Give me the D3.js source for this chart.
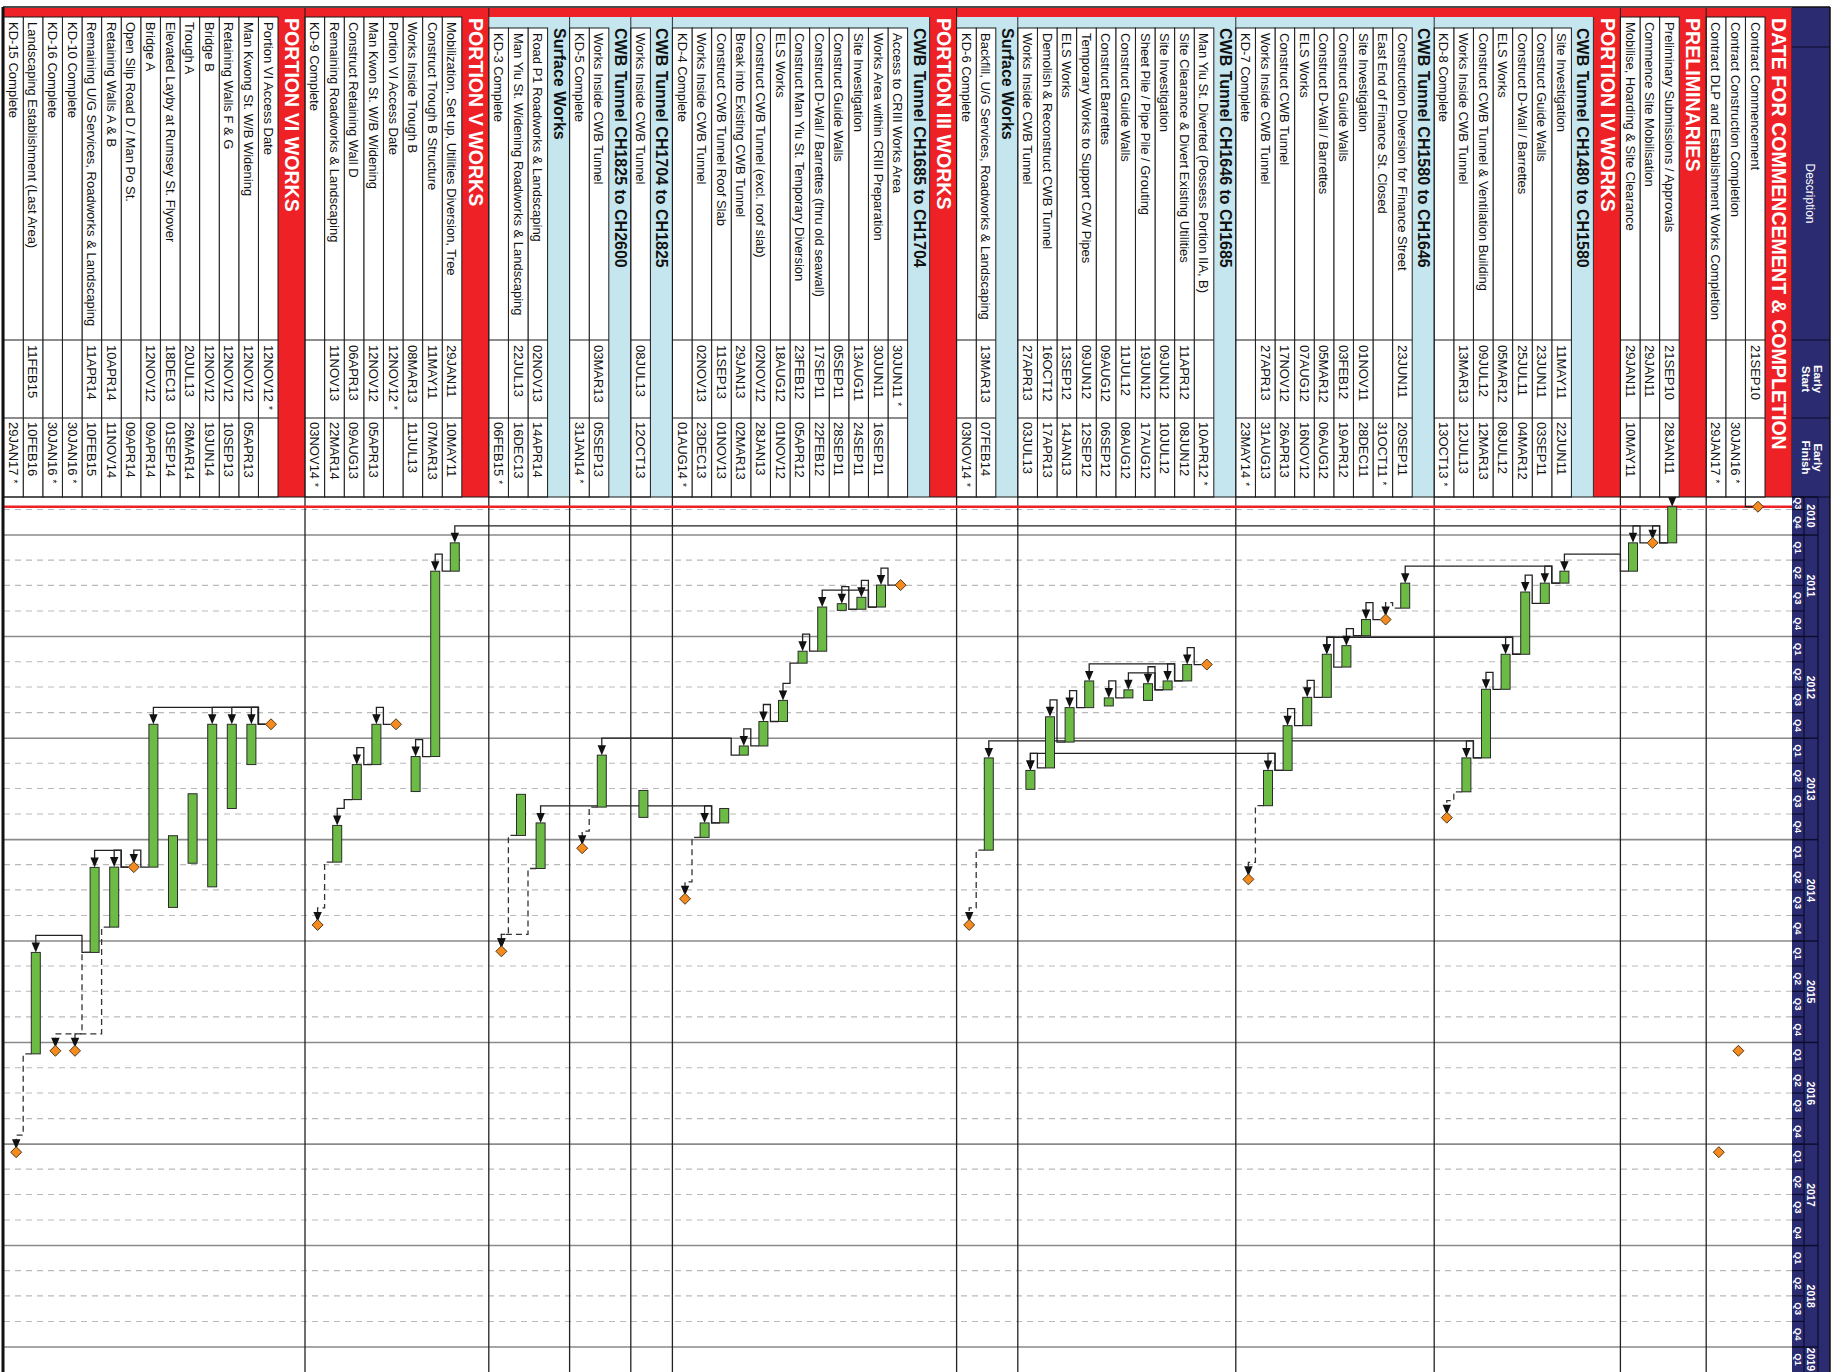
<!DOCTYPE html>
<html>
<head>
<meta charset="utf-8">
<script src="https://cdn.jsdelivr.net/npm/d3@7"></script>
<style>
  html, body { margin: 0; padding: 0; background: #ffffff; }
  svg { display: block; }
  text { font-family: "Liberation Sans", Arial, Helvetica, sans-serif; }
</style>
</head>
<body>
<script>
// ---- Programme rows, top to bottom (G = WBS group, S = sub-group, A = activity / milestone)
const rowKind = [
  "G","A","A","A",
  "G","A","A","A",
  "G","S","A","A","A","A","A","A","A",
  "S","A","A","A","A","A","A","A","A","A",
  "S","A","A","A","A","A","A","A","A","A","A",
  "S","A","A",
  "G","S","A","A","A","A","A","A","A","A","A","A","A","A",
  "S","A",
  "S","A","A",
  "S","A","A","A",
  "G","A","A","A","A","A","A","A","A",
  "G","A","A","A","A","A","A","A","A","A","A","A","A","A","A"
];

const rowLabel = [
  "DATE FOR COMMENCEMENT & COMPLETION",
  "Contract Commencement",
  "Contract Construction Completion",
  "Contract DLP and Establishment Works Completion",
  "PRELIMINARIES",
  "Preliminary Submissions / Approvals",
  "Commence Site Mobilisation",
  "Mobilise, Hoarding & Site Clearance",
  "PORTION IV WORKS",
  "CWB Tunnel CH1480 to CH1580",
  "Site Investigation",
  "Construct Guide Walls",
  "Construct D-Wall / Barrettes",
  "ELS Works",
  "Construct CWB Tunnel & Ventilation Building",
  "Works Inside CWB Tunnel",
  "KD-8 Complete",
  "CWB Tunnel CH1580 to CH1646",
  "Construction Diversion for Finance Street",
  "East End of Finance St. Closed",
  "Site Investigation",
  "Construct Guide Walls",
  "Construct D-Wall / Barrettes",
  "ELS Works",
  "Construct CWB Tunnel",
  "Works Inside CWB Tunnel",
  "KD-7 Complete",
  "CWB Tunnel CH1646 to CH1685",
  "Man Yiu St. Diverted (Possess Portion IIA, B)",
  "Site Clearance & Divert Existing Utilities",
  "Site Investigation",
  "Sheet Pile / Pipe Pile / Grouting",
  "Construct Guide Walls",
  "Construct Barrettes",
  "Temporary Works to Support C/W Pipes",
  "ELS Works",
  "Demolish & Reconstruct CWB Tunnel",
  "Works Inside CWB Tunnel",
  "Surface Works",
  "Backfill, U/G Services, Roadworks & Landscaping",
  "KD-6 Complete",
  "PORTION III WORKS",
  "CWB Tunnel CH1685 to CH1704",
  "Access to CRIII Works Area",
  "Works Area within CRIII Preparation",
  "Site Investigation",
  "Construct Guide Walls",
  "Construct D-Wall / Barrettes (thru old seawall)",
  "Construct Man Yiu St. Temporary Diversion",
  "ELS Works",
  "Construct CWB Tunnel (excl. roof slab)",
  "Break into Existing CWB Tunnel",
  "Construct CWB Tunnel Roof Slab",
  "Works Inside CWB Tunnel",
  "KD-4 Complete",
  "CWB Tunnel CH1704 to CH1825",
  "Works Inside CWB Tunnel",
  "CWB Tunnel CH1825 to CH2600",
  "Works Inside CWB Tunnel",
  "KD-5 Complete",
  "Surface Works",
  "Road P1 Roadworks & Landscaping",
  "Man Yiu St. Widening Roadworks & Landscaping",
  "KD-3 Complete",
  "PORTION V WORKS",
  "Mobilization, Set up, Utilities Diversion, Tree",
  "Construct Trough B Structure",
  "Works Inside Trough B",
  "Portion VI Access Date",
  "Man Kwon St. W/B Widening",
  "Construct Retaining Wall D",
  "Remaining Roadworks & Landscaping",
  "KD-9 Complete",
  "PORTION VI WORKS",
  "Portion VI Access Date",
  "Man Kwong St. W/B Widening",
  "Retaining Walls F & G",
  "Bridge B",
  "Trough A",
  "Elevated Layby at Rumsey St. Flyover",
  "Bridge A",
  "Open Slip Road D / Man Po St.",
  "Retaining Walls A & B",
  "Remaining U/G Services, Roadworks & Landscaping",
  "KD-10 Complete",
  "KD-16 Complete",
  "Landscaping Establishment (Last Area)",
  "KD-15 Complete"
];

const earlyStart = [
  "","21SEP10","","",
  "","21SEP10","29JAN11","29JAN11",
  "","","11MAY11","23JUN11","25JUL11","05MAR12","09JUL12","13MAR13","",
  "","23JUN11","","01NOV11","03FEB12","05MAR12","07AUG12","17NOV12","27APR13","",
  "","","11APR12","09JUN12","19JUN12","11JUL12","09AUG12","09JUN12","13SEP12","16OCT12","27APR13",
  "","13MAR13","",
  "","","30JUN11 *","30JUN11","13AUG11","05SEP11","17SEP11","23FEB12","18AUG12","02NOV12","29JAN13","11SEP13","02NOV13","",
  "","08JUL13",
  "","03MAR13","",
  "","02NOV13","22JUL13","",
  "","29JAN11","11MAY11","08MAR13","12NOV12 *","12NOV12","06APR13","11NOV13","",
  "","12NOV12 *","12NOV12","12NOV12","12NOV12","20JUL13","18DEC13","12NOV12","","10APR14","11APR14","","","11FEB15",""
];

const earlyFinish = [
  "","","30JAN16 *","29JAN17 *",
  "","28JAN11","","10MAY11",
  "","","22JUN11","03SEP11","04MAR12","08JUL12","12MAR13","12JUL13","13OCT13 *",
  "","20SEP11","31OCT11 *","28DEC11","19APR12","06AUG12","16NOV12","26APR13","31AUG13","23MAY14 *",
  "","10APR12 *","08JUN12","10JUL12","17AUG12","08AUG12","06SEP12","12SEP12","14JAN13","17APR13","03JUL13",
  "","07FEB14","03NOV14 *",
  "","","","16SEP11","24SEP11","28SEP11","22FEB12","05APR12","01NOV12","28JAN13","02MAR13","01NOV13","23DEC13","01AUG14 *",
  "","12OCT13",
  "","05SEP13","31JAN14 *",
  "","14APR14","16DEC13","06FEB15 *",
  "","10MAY11","07MAR13","11JUL13","","05APR13","09AUG13","22MAR14","03NOV14 *",
  "","","05APR13","10SEP13","19JUN14","26MAR14","01SEP14","09APR14","09APR14","11NOV14","10FEB15","30JAN16 *","30JAN16 *","10FEB16","29JAN17 *"
];

// ---- Logic ties between rows: [predecessor, successor, dashed (non-driving)]
const links = [
  [1,5,0],[5,6,0],[6,7,0],[5,65,0],[7,10,0],
  [10,11,0],[10,18,0],[11,12,0],[12,13,0],[12,22,0],[13,14,0],[14,15,0],[15,16,1],
  [18,19,1],[19,20,0],[20,21,0],[21,22,0],[22,23,0],[23,24,0],[24,25,0],[24,37,0],[25,26,1],
  [28,29,0],[29,30,0],[29,34,0],[30,31,0],[30,32,0],[32,33,0],[34,35,0],[35,36,0],[36,37,0],[14,39,0],[39,40,1],
  [43,44,0],[44,45,0],[45,46,0],[44,47,0],[47,48,0],[48,49,0],[49,50,0],[50,51,0],[51,58,0],[52,53,0],[52,61,0],[53,54,1],
  [58,59,1],[61,63,1],[62,63,1],
  [65,66,0],[66,67,0],[68,69,0],[69,70,0],[70,71,0],[71,72,1],
  [74,75,0],[74,76,0],[74,77,0],[74,80,0],[80,81,0],[81,82,0],[81,83,0],[83,86,0],[82,84,1],[83,85,1],[86,87,1]
];

// ---- Timescale labels
const quarterNames = ["Q1","Q2","Q3","Q4"];
const yearNames = ["2010","2011","2012","2013","2014","2015","2016","2017","2018","2019"];

// ---- Colours
const C = {
  navy: "#2a2b70", red: "#ee2127", blue: "#c5e6ee", green: "#6bbb45",
  orange: "#f58a1f", line: "#1a1a1a", grid: "#b9b9b9", year: "#8a8a8a"
};

// The sheet is laid out landscape-style (time runs left to right) and then
// turned a quarter-turn clockwise onto the page.
const PW = 1837, PH = 1372;
const svg = d3.select("body").append("svg").attr("width", PW).attr("height", PH);
const g = svg.append("g").attr("transform", `translate(${PW},0) rotate(90)`);
const W = PH;             // sheet width  (time direction)
const BOTTOM = 1834;      // sheet bottom edge

// column edges
const X_GRP = 8, X_SUB = 17, X_ACT = 28, X_START = 340, X_FIN = 418, X_G = 497;
const HEAD_TOP = 7, HEAD_BOT = 45;

// row geometry
const heights = { G: 27, S: 22, A: 19.6 };
const rowTop = [];
let acc = HEAD_BOT;
rowKind.forEach((k, i) => { rowTop[i] = acc; acc += heights[k]; });
const rowH = rowKind.map(k => heights[k]);

// date handling
const MONTHS = "JANFEBMARAPRMAYJUNJULAUGSEPOCTNOVDEC";
function parseDay(s, endOfDay) {
  if (!s) return null;
  const m = s.trim().match(/^(\d\d)([A-Z]{3})(\d\d)/);
  const d = +m[1], mo = MONTHS.indexOf(m[2]) / 3, y = 2000 + (+m[3]);
  return new Date(Date.UTC(y, mo, d + (endOfDay ? 1 : 0)));
}

const x = d3.scaleUtc()
  .domain([new Date(Date.UTC(2010, 7, 17)), new Date(Date.UTC(2019, 3, 1))])
  .range([X_G, W]);

// group / sub-group extents
const groups = [], subs = [];
rowKind.forEach((k, i) => {
  if (k === "G") groups.push({ start: i, end: rowKind.length });
  if (k === "S") subs.push({ start: i, end: rowKind.length });
});
groups.forEach((gr, j) => { if (j + 1 < groups.length) gr.end = groups[j + 1].start; });
subs.forEach(sb => {
  for (let i = sb.start + 1; i < rowKind.length; i++) {
    if (rowKind[i] !== "A") { sb.end = i; break; }
  }
});
const yEnd = i => (i >= rowKind.length ? BOTTOM : rowTop[i]);
// indentation of each activity row
const inSub = rowKind.map((k, i) => subs.some(sb => i > sb.start && i < sb.end));

// per-row mark description
const marks = rowKind.map((k, i) => {
  if (k !== "A") return null;
  const s = earlyStart[i], f = earlyFinish[i];
  if (s && f) return { type: "bar", x0: x(parseDay(s)), x1: x(parseDay(f, true)) };
  if (s) return { type: "ms", x0: x(parseDay(s)), x1: x(parseDay(s)) };
  if (f) { const v = x(parseDay(f, true)); return { type: "ms", x0: v, x1: v }; }
  return null;
});
const MARK_C = 7;     // mark centre below row top
const BAR_H = 9;
const DIA = 5.5;

// clip for everything drawn in the bar area
svg.append("defs").append("clipPath").attr("id", "ganttClip")
  .append("rect").attr("x", X_G).attr("y", HEAD_BOT).attr("width", W - X_G).attr("height", BOTTOM - HEAD_BOT);

// ================= Gantt background =================
const gantt = g.append("g");
gantt.append("rect").attr("x", X_G).attr("y", HEAD_BOT).attr("width", W - X_G).attr("height", BOTTOM - HEAD_BOT).attr("fill", "#fff");

// quarter / year grid
const qTicks = d3.utcMonth.every(3).range(x.domain()[0], x.domain()[1]);
gantt.selectAll("line.grid").data(qTicks).join("line")
  .attr("x1", d => x(d)).attr("x2", d => x(d))
  .attr("y1", HEAD_BOT).attr("y2", BOTTOM)
  .attr("stroke", d => d.getUTCMonth() === 0 ? C.year : C.grid)
  .attr("stroke-width", d => d.getUTCMonth() === 0 ? 1.6 : 1.1)
  .attr("stroke-dasharray", d => d.getUTCMonth() === 0 ? null : "6,5");

// group end separators across the bar area
const sepY = [];
rowKind.forEach((k, i) => { if (k !== "A" && i > 0 && rowKind[i - 1] === "A") sepY.push(rowTop[i]); });
gantt.selectAll("line.sep").data(sepY).join("line")
  .attr("x1", X_G).attr("x2", W).attr("y1", d => d).attr("y2", d => d)
  .attr("stroke", "#222").attr("stroke-width", 1.3);

// data date
const dataDate = x(parseDay("21SEP10"));
gantt.append("line").attr("x1", dataDate).attr("x2", dataDate).attr("y1", HEAD_BOT).attr("y2", BOTTOM)
  .attr("stroke", C.red).attr("stroke-width", 2.4);

// ================= relationship lines =================
const ARROW = 10;
function linkGeom(p, s) {
  const mp = marks[p], ms = marks[s];
  const xf = mp.x1;
  const yb = rowTop[p] + MARK_C + (mp.type === "bar" ? BAR_H / 2 : DIA);
  const rb = rowTop[p] + rowH[p];
  const xs = ms.type === "bar" ? ms.x0 : ms.x0 - 3;
  const ys = rowTop[s] + MARK_C;
  const xv = ms.x0 - 17;
  return { path: `M${xf},${yb}V${rb}H${xv}V${ys}H${xs - ARROW + 1}`, tip: [xs, ys] };
}
const linkG = g.append("g").attr("clip-path", "url(#ganttClip)");
links.forEach(([p, s, dashed]) => {
  const lg = linkGeom(p, s);
  linkG.append("path").attr("d", lg.path).attr("fill", "none")
    .attr("stroke", dashed ? "#333" : "#222").attr("stroke-width", 1.3)
    .attr("stroke-dasharray", dashed ? "6,4" : null);
  const [tx, ty] = lg.tip;
  linkG.append("path")
    .attr("d", `M${tx},${ty}L${tx - ARROW},${ty - 4.2}L${tx - ARROW},${ty + 4.2}Z`)
    .attr("fill", "#111");
});

// ================= bars and milestones =================
const markG = g.append("g");
marks.forEach((m, i) => {
  if (!m) return;
  const cy = rowTop[i] + MARK_C;
  if (m.type === "bar") {
    markG.append("rect").attr("x", m.x0).attr("y", cy - BAR_H / 2)
      .attr("width", Math.max(1, m.x1 - m.x0)).attr("height", BAR_H)
      .attr("fill", C.green).attr("stroke", "#2b2b2b").attr("stroke-width", 1);
  } else {
    markG.append("path")
      .attr("d", `M${m.x0},${cy - DIA}L${m.x0 + DIA},${cy}L${m.x0},${cy + DIA}L${m.x0 - DIA},${cy}Z`)
      .attr("fill", C.orange).attr("stroke", "#3a2a10").attr("stroke-width", 0.9);
  }
});

// ================= activity table =================
const tbl = g.append("g");
// coloured group bands
groups.forEach(gr => {
  tbl.append("rect").attr("x", X_GRP).attr("y", rowTop[gr.start]).attr("width", X_SUB - X_GRP)
    .attr("height", yEnd(gr.end) - rowTop[gr.start]).attr("fill", C.red);
  tbl.append("rect").attr("x", X_GRP).attr("y", rowTop[gr.start]).attr("width", X_G - X_GRP)
    .attr("height", rowH[gr.start]).attr("fill", C.red);
});
subs.forEach(sb => {
  tbl.append("rect").attr("x", X_SUB).attr("y", rowTop[sb.start]).attr("width", X_ACT - X_SUB)
    .attr("height", yEnd(sb.end) - rowTop[sb.start]).attr("fill", C.blue);
  tbl.append("rect").attr("x", X_SUB).attr("y", rowTop[sb.start]).attr("width", X_G - X_SUB)
    .attr("height", rowH[sb.start]).attr("fill", C.blue);
});

rowKind.forEach((k, i) => {
  const top = rowTop[i], h = rowH[i];
  if (k === "G") {
    tbl.append("text").attr("x", X_GRP + 10).attr("y", top + 19.8)
      .attr("font-size", 19.6).attr("font-weight", 700).attr("fill", "#fff").text(rowLabel[i]);
    tbl.append("line").attr("x1", X_GRP).attr("x2", X_G).attr("y1", top).attr("y2", top).attr("stroke", C.line).attr("stroke-width", 1);
    return;
  }
  if (k === "S") {
    tbl.append("text").attr("x", X_ACT).attr("y", top + 16)
      .attr("font-size", 16).attr("font-weight", 700).attr("fill", "#111").text(rowLabel[i]);
    tbl.append("line").attr("x1", X_SUB).attr("x2", X_G).attr("y1", top).attr("y2", top).attr("stroke", C.line).attr("stroke-width", 0.9);
    return;
  }
  const x0 = inSub[i] ? X_ACT : X_SUB;
  tbl.append("rect").attr("x", x0).attr("y", top).attr("width", X_G - x0).attr("height", h)
    .attr("fill", "#fff").attr("stroke", C.line).attr("stroke-width", 1);
  tbl.append("line").attr("x1", X_START).attr("x2", X_START).attr("y1", top).attr("y2", top + h).attr("stroke", C.line);
  tbl.append("line").attr("x1", X_FIN).attr("x2", X_FIN).attr("y1", top).attr("y2", top + h).attr("stroke", C.line);
  tbl.append("text").attr("x", x0 + 5).attr("y", top + 14.5).attr("font-size", 13).attr("fill", "#111").text(rowLabel[i]);
  const cell = (str, cx) => {
    if (!str) return;
    const t = tbl.append("text").attr("x", cx).attr("y", top + 14.5).attr("font-size", 13).attr("fill", "#111");
    const star = str.indexOf("*") >= 0;
    t.append("tspan").text(str.replace("*", "").trim());
    if (star) t.append("tspan").attr("font-size", 10).attr("dx", 4).attr("dy", -1).text("*");
  };
  cell(earlyStart[i], X_START + 5);
  cell(earlyFinish[i], X_FIN + 4);
});

// table to chart divider
tbl.append("line").attr("x1", X_G).attr("x2", X_G).attr("y1", HEAD_BOT).attr("y2", BOTTOM).attr("stroke", C.line).attr("stroke-width", 1.2);

// ================= header band =================
const hd = g.append("g");
hd.append("rect").attr("x", HEAD_TOP).attr("y", HEAD_TOP).attr("width", W - HEAD_TOP).attr("height", HEAD_BOT - HEAD_TOP).attr("fill", C.navy);
[47, X_START, X_FIN, X_G].forEach(v => hd.append("line").attr("x1", v).attr("x2", v).attr("y1", HEAD_TOP).attr("y2", HEAD_BOT).attr("stroke", "#0c0c2a").attr("stroke-width", 1.2));
hd.append("text").attr("x", (47 + X_START) / 2).attr("y", 31).attr("text-anchor", "middle")
  .attr("font-size", 12).attr("fill", "#fff").text("Description");
[["Early", "Start", (X_START + X_FIN) / 2], ["Early", "Finish", (X_FIN + X_G) / 2]].forEach(([a, b, cx]) => {
  hd.append("text").attr("x", cx).attr("y", 23.5).attr("text-anchor", "middle").attr("font-size", 11.5).attr("font-weight", 700).attr("fill", "#fff").text(a);
  hd.append("text").attr("x", cx).attr("y", 35).attr("text-anchor", "middle").attr("font-size", 11.5).attr("font-weight", 700).attr("fill", "#fff").text(b);
});

// timescale: years and quarters
const Y_YEAR = 19, Y_Q = 33;
hd.append("line").attr("x1", X_G).attr("x2", W).attr("y1", Y_YEAR).attr("y2", Y_YEAR).attr("stroke", "#0c0c2a").attr("stroke-width", 1.2);
hd.append("line").attr("x1", X_G).attr("x2", W).attr("y1", Y_Q).attr("y2", Y_Q).attr("stroke", "#0c0c2a").attr("stroke-width", 1.2);
const qEdges = [x.domain()[0], ...qTicks, x.domain()[1]];
for (let i = 0; i < qEdges.length - 1; i++) {
  const a = x(qEdges[i]), b = x(qEdges[i + 1]);
  const mid = new Date((+qEdges[i] + +qEdges[i + 1]) / 2);
  hd.append("line").attr("x1", a).attr("x2", a).attr("y1", Y_Q).attr("y2", HEAD_BOT).attr("stroke", "#0c0c2a").attr("stroke-width", 1.2);
  hd.append("text").attr("x", (a + b) / 2).attr("y", 42.5).attr("text-anchor", "middle")
    .attr("font-size", 9.5).attr("font-weight", 700).attr("fill", "#fff")
    .text(quarterNames[Math.floor(mid.getUTCMonth() / 3)]);
}
yearNames.forEach((yn, i) => {
  const a = Math.max(x(new Date(Date.UTC(+yn, 0, 1))), X_G);
  const b = Math.min(x(new Date(Date.UTC(+yn + 1, 0, 1))), W);
  hd.append("line").attr("x1", a).attr("x2", a).attr("y1", Y_YEAR).attr("y2", HEAD_BOT).attr("stroke", "#0c0c2a").attr("stroke-width", 1.4);
  hd.append("text").attr("x", (a + b) / 2).attr("y", 30).attr("text-anchor", "middle")
    .attr("font-size", 10.5).attr("font-weight", 700).attr("fill", "#fff").text(yn);
});

// sheet border
g.append("line").attr("x1", HEAD_TOP).attr("x2", W).attr("y1", HEAD_TOP).attr("y2", HEAD_TOP).attr("stroke", "#111").attr("stroke-width", 1.5);
g.append("line").attr("x1", HEAD_TOP).attr("x2", HEAD_TOP).attr("y1", HEAD_TOP).attr("y2", BOTTOM).attr("stroke", "#111").attr("stroke-width", 1.5);
g.append("line").attr("x1", HEAD_TOP).attr("x2", W).attr("y1", BOTTOM).attr("y2", BOTTOM).attr("stroke", "#111").attr("stroke-width", 3);
</script>
</body>
</html>
